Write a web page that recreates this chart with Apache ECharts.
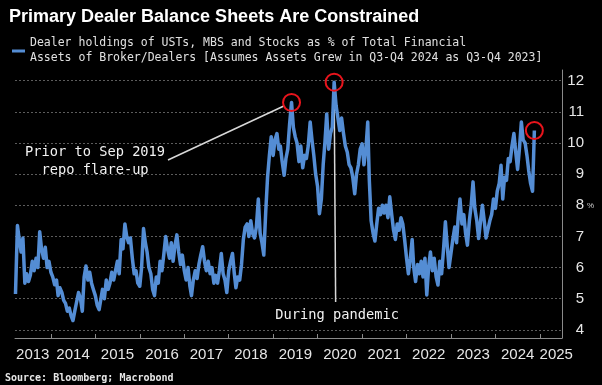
<!DOCTYPE html>
<html><head><meta charset="utf-8">
<script src="https://cdn.jsdelivr.net/npm/echarts@6/dist/echarts.min.js"></script>
<style>html,body{margin:0;padding:0;background:#000;}#c{width:602px;height:385px;}</style>
</head><body><div id="c"></div>
<script>
// Semi-monthly readings (1st and 16th of each month), % of total financial assets
const v2013 = [5.15, 7.35,6.9, 6.5,6.95, 5.5,5.8, 5.55,5.75, 6.2,5.9, 6.3,6.0, 7.15,6.6, 6.3,6.65, 6.0,6.2]; // starts 16 Mar 2013
const v2014 = [5.85,5.7, 5.45,5.6, 5.1,5.35, 5.2,4.95, 4.85,4.6, 4.7,4.45, 4.3,4.6, 4.6,5.2, 5.0,4.6, 5.7,6.05, 5.6,5.85, 5.5,5.3];
const v2015 = [5.1,4.8, 4.65,5.0, 5.3,5.0, 5.6,5.3, 5.5,5.85, 5.6,5.9, 6.2,5.8, 6.9,6.6, 7.4,7.0, 6.8,6.95, 6.3,5.8, 5.9,5.5];
const v2016 = [5.4,6.0, 7.25,6.8, 6.5,6.0, 5.8,5.3, 5.1,5.7, 5.5,6.2, 5.9,6.4, 7.0,6.6, 6.3,6.8, 6.2,6.7, 7.05,6.5, 6.1,6.4];
const v2017 = [5.9,5.6, 6.0,5.4, 5.1,5.6, 5.9,5.65, 6.1,6.4, 6.67,6.2, 5.9,6.2, 5.8,6.0, 5.5,5.75, 5.5,5.9, 6.45,5.8, 5.6,5.2];
const v2018 = [5.9,6.2, 6.45,5.8, 5.35,5.7, 5.6,6.1, 6.9,7.3, 7.4,7.0, 7.5,7.1, 6.95,7.3, 8.2,7.1, 6.8,6.4, 7.8,8.9, 9.6,10.2];
const v2019 = [9.6,10.1, 10.3,9.8, 9.9,9.4, 8.96,9.5, 9.8,10.6, 11.3,10.5, 10.2,10.0, 9.4,9.9, 9.2,9.6, 9.5,9.9, 10.67,10.1, 9.6,9.0];
const v2020 = [8.6,7.73, 8.2,9.3, 10.0,10.93, 9.8,10.3, 10.5,11.95, 11.2,10.8, 10.4,10.8, 10.3,9.9, 9.7,9.3, 9.2,8.9, 8.37,9.0, 9.3,9.8];
const v2021 = [9.97,9.3, 9.8,10.67, 8.8,7.5, 7.1,6.85, 7.4,7.9, 7.7,8.0, 7.75,8.0, 7.6,8.27, 7.7,7.2, 6.9,7.4, 7.2,7.6, 7.4,6.9];
const v2022 = [6.3,5.8, 6.3,6.9, 6.0,5.55, 6.1,5.8, 6.2,5.7, 6.3,5.12, 6.0,6.5, 5.9,6.3, 5.7,5.44, 6.2,5.8, 6.6,7.47, 6.7,6.0];
const v2023 = [6.0,6.9, 7.3,6.8, 7.6,8.2, 7.4,7.7, 7.1,6.72, 7.5,8.0, 8.75,7.9, 7.5,6.93, 7.5,8.0, 7.5,6.95, 7.0,7.5, 7.7,8.2];
const v2024 = [7.9,8.45, 8.7,9.28, 8.2,8.9, 8.8,9.5, 9.4,9.9, 10.3,9.7, 9.15,9.8, 10.67,10.1, 10.0,9.6, 9.1,8.7, 8.45,10.4];

const yearTicks = [2014,2015,2016,2017,2018,2019,2020,2021,2022,2023,2024,2025];
const yTicks = [4,5,6,7,8,9,10,11,12];

const TITLE = 'Primary Dealer Balance Sheets Are Constrained';
const SERIES_NAME = 'Dealer holdings of USTs, MBS and Stocks as % of Total Financial\nAssets of Broker/Dealers [Assumes Assets Grew in Q3-Q4 2024 as Q3-Q4 2023]';
const SOURCE = 'Source: Bloomberg; Macrobond';

const data = [];
function addYear(year, vals, startMonth, startHalf) {
  let mo = startMonth, half = startHalf;
  for (const v of vals) {
    data.push([Date.UTC(year, mo, half ? 16 : 1), v]);
    if (half) { half = 0; mo++; } else { half = 1; }
  }
}
addYear(2013, v2013, 2, 1);
[[2014,v2014],[2015,v2015],[2016,v2016],[2017,v2017],[2018,v2018],[2019,v2019],
 [2020,v2020],[2021,v2021],[2022,v2022],[2023,v2023],[2024,v2024]].forEach(p => addYear(p[0], p[1], 0, 0));

function maxIn(from, to) {
  let best = null;
  data.forEach(d => { if (d[0] >= from && d[0] < to && (!best || d[1] > best[1])) best = d; });
  return best;
}
const p2019 = maxIn(Date.UTC(2019,0,1), Date.UTC(2020,0,1));
const p2020 = maxIn(Date.UTC(2020,0,1), Date.UTC(2021,0,1));
const pLast = data[data.length - 1];

const labelPos = [Date.UTC(2013,7,5)];
for (let y = 2014; y <= 2024; y++) labelPos.push(Date.UTC(y, 6, 2));
labelPos.push(Date.UTC(2025, 4, 15));

const MONO = '"DejaVu Sans Mono", "Liberation Mono", monospace';
const SANS = '"Liberation Sans", Arial, sans-serif';

const chart = echarts.init(document.getElementById('c'), null, {renderer: 'canvas'});
chart.setOption({
  backgroundColor: '#000',
  animation: false,
  title: {
    text: TITLE, left: 4, top: 3,
    textStyle: {color: '#fff', fontSize: 18, fontWeight: 'bold', fontFamily: SANS}
  },
  legend: {
    left: 7, top: 31, icon: 'rect', itemWidth: 13, itemHeight: 3, itemGap: 0,
    textStyle: {color: '#e0e0e0', fontSize: 11.5, lineHeight: 15, fontFamily: MONO},
    data: [SERIES_NAME]
  },
  grid: {left: 15, right: 40, top: 70, bottom: 47},
  xAxis: {
    type: 'value',
    min: Date.UTC(2013,2,12), max: Date.UTC(2025,6,1),
    axisLine: {show: true, onZero: false, lineStyle: {color: '#8a8a8a', width: 1}},
    axisTick: {show: true, inside: true, length: 4, lineStyle: {color: '#8a8a8a'},
      customValues: yearTicks.map(y => Date.UTC(y,0,1))},
    axisLabel: {
      customValues: labelPos, color: '#e6e6e6', fontSize: 15, fontFamily: SANS, margin: 9,
      formatter: v => String(new Date(v).getUTCFullYear())
    },
    splitLine: {show: false}
  },
  yAxis: {
    type: 'value', position: 'right', min: 3.74, max: 12.34,
    axisLine: {show: true, lineStyle: {color: '#8a8a8a', width: 1}},
    axisTick: {show: false, customValues: yTicks},
    axisLabel: {customValues: yTicks, color: '#e6e6e6', fontSize: 15, fontFamily: SANS,
      align: 'right', margin: 22},
    splitLine: {show: true, lineStyle: {color: '#5c5c5c', width: 1, type: [2, 2]}}
  },
  series: [{
    name: SERIES_NAME, type: 'line', data: data, showSymbol: false,
    lineStyle: {color: '#548dd4', width: 3.5, join: 'round'},
    itemStyle: {color: '#548dd4'},
    markPoint: {
      symbol: 'circle', symbolSize: 17, silent: true,
      itemStyle: {color: 'rgba(0,0,0,0)', borderColor: '#e8141c', borderWidth: 2},
      label: {show: false},
      data: [{coord: p2019}, {coord: p2020}, {coord: pLast}]
    }
  }]
});

const c1 = chart.convertToPixel({gridIndex: 0}, p2019);
const c2 = chart.convertToPixel({gridIndex: 0}, p2020);
const y8 = chart.convertToPixel({yAxisIndex: 0}, 8);
const start1 = [168, 160];
const dx = c1[0] - start1[0], dy = c1[1] - start1[1];
const len = Math.sqrt(dx*dx + dy*dy);
const end1 = [c1[0] - dx/len*8.5, c1[1] - dy/len*8.5];

chart.setOption({
  graphic: [
    {type: 'line', shape: {x1: start1[0], y1: start1[1], x2: end1[0], y2: end1[1]},
     style: {stroke: '#d8d8d8', lineWidth: 1.5}},
    {type: 'text', left: 95 - 70, top: 143,
     style: {text: 'Prior to Sep 2019\n  repo flare-up', fill: '#f2f2f2', font: '13.7px ' + MONO, lineHeight: 18}},
    {type: 'line', shape: {x1: c2[0], y1: c2[1] + 8.5, x2: c2[0] + 1.5, y2: 302},
     style: {stroke: '#d8d8d8', lineWidth: 1.5}},
    {type: 'text', x: c2[0] + 3, y: 315,
     style: {text: 'During pandemic', fill: '#f2f2f2', font: '13.7px ' + MONO, align: 'center', verticalAlign: 'middle'}},
    {type: 'text', x: 587, y: y8 + 1,
     style: {text: '%', fill: '#cfcfcf', font: '8px ' + SANS, verticalAlign: 'middle'}},
    {type: 'text', x: 5, y: 378,
     style: {text: SOURCE, fill: '#e6e6e6', font: 'bold 10px ' + MONO, verticalAlign: 'middle'}}
  ]
});
</script></body></html>
